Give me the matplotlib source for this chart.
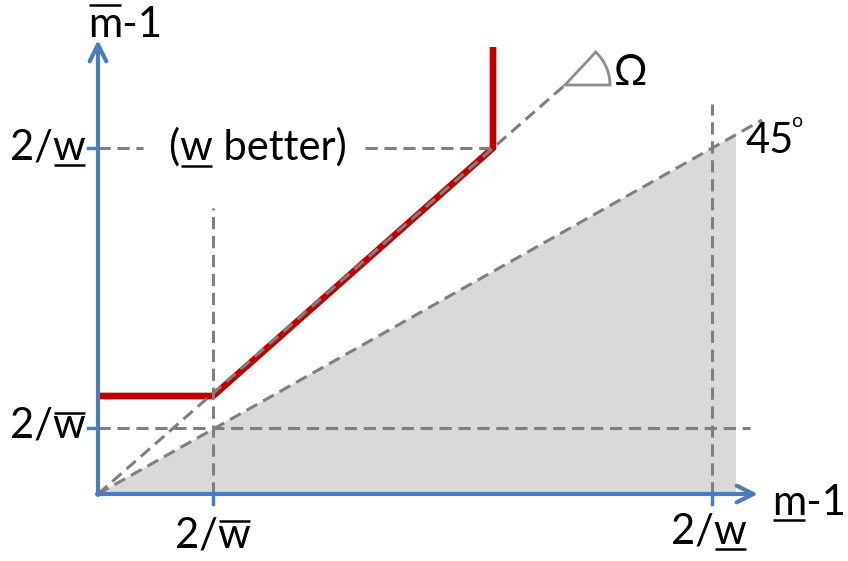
import matplotlib
matplotlib.use('Agg')
import matplotlib.pyplot as plt
from matplotlib.patches import Wedge, Polygon

W, H = 848, 561
OX, OY = 98, 494  # origin of the diagram in image pixels

# ---- diagram values (units: pixels measured from the origin) ----
x_ticks = [115, 614]            # 2/w̄ , 2/w  on the m-1 axis
y_ticks = [66, 346]             # 2/w̄ , 2/w  on the m̄-1 axis
red_x = [0, 115, 395, 395]
red_y = [98, 98, 346, 447]
omega_x = [0, 467]
omega_y = [0, 409]
line45_x = [0, 664]
line45_y = [0, 374]
fill_end = 638
x_axis_end = 660
y_axis_end = 454

BLUE = '#4A7EBB'
GRAY = '#7F7F7F'
RED = '#C00000'
FILL = '#D9D9D9'
FONT = 'Lato'
FS = 30

fig = plt.figure(figsize=(W / 100, H / 100), dpi=100)
ax = fig.add_axes([0, 0, 1, 1])
ax.set_xlim(-OX, W - OX)
ax.set_ylim(-(H - OY), OY)
ax.axis('off')

# shaded region under the 45 degree line
slope45 = line45_y[1] / line45_x[1]
ax.add_patch(Polygon([(0, 0), (fill_end, fill_end * slope45), (fill_end, 0)],
                     closed=True, fc=FILL, ec='none', zorder=1))

dash = dict(color=GRAY, lw=2.2, dashes=(4, 2.2), zorder=4)

# red path
ax.plot(red_x, red_y, color=RED, lw=4.8, solid_capstyle='butt', zorder=3)

# diagonal dashed lines
ax.plot(omega_x, omega_y, **dash)
ax.plot(line45_x, line45_y, **dash)

# guide lines
ax.plot([x_ticks[0], x_ticks[0]], [0, 286], **dash)
ax.plot([x_ticks[1], x_ticks[1]], [0, 390], **dash)
ax.plot([0, 652], [y_ticks[0], y_ticks[0]], **dash)
ax.plot([0, 45], [y_ticks[1], y_ticks[1]], **dash)
ax.plot([267, 392], [y_ticks[1], y_ticks[1]], **dash)

# Omega wedge
ax.add_patch(Wedge((omega_x[1], omega_y[1]), 45, 0, 47, fill=False,
                   ec='#8C8C8C', lw=2, zorder=4))

# axes with arrows
arrow = dict(arrowstyle='->', color=BLUE, lw=3, shrinkA=0, shrinkB=0,
             mutation_scale=30)
ax.annotate('', xy=(x_axis_end, 0), xytext=(-1, 0), arrowprops=arrow, zorder=5)
ax.annotate('', xy=(0, y_axis_end), xytext=(0, -1), arrowprops=arrow, zorder=5)

# tick marks
for xt in x_ticks:
    ax.plot([xt, xt], [0, -10], color=BLUE, lw=2.5, zorder=5)
for yt in y_ticks:
    ax.plot([-10, 0], [yt, yt], color=BLUE, lw=2.5, zorder=5)

# ---- text with over/underlined letters ----
decos = []


def deco_text(xpx, ybase, text, idx=None, kind=None, off=0, ha='left', fs=FS):
    t = ax.text(xpx - OX, OY - ybase, text, ha=ha, va='baseline', fontsize=fs,
                family=FONT, color='black', zorder=6)
    if kind:
        decos.append((t, text, idx, kind, off))
    return t


deco_text(88, 37, 'm-1', 0, 'over', 32)
deco_text(772, 515, 'm-1', 0, 'under', 5)
deco_text(48, 438, '2/w', 2, 'over', 25, ha='center')
deco_text(48, 159, '2/w', 2, 'under', 6, ha='center')
deco_text(213, 547, '2/w', 2, 'over', 26, ha='center')
deco_text(709, 543, '2/w', 2, 'under', 6, ha='center')
deco_text(258, 160, '(w better)', 1, 'under', 6, ha='center')
deco_text(745, 153, '45')
deco_text(791, 127, 'o', fs=14)
deco_text(614, 85, 'Ω')

fig.canvas.draw()
renderer = fig.canvas.get_renderer()
for t, text, idx, kind, off in decos:
    bb = t.get_window_extent(renderer)
    fp = t.get_fontproperties()
    pre = renderer.get_text_width_height_descent(text[:idx], fp, ismath=False)[0] if idx else 0
    inc = renderer.get_text_width_height_descent(text[:idx + 1], fp, ismath=False)[0]
    x0 = bb.x0 + pre - OX
    x1 = bb.x0 + inc - OX
    yb = t.get_position()[1]
    yl = yb + off if kind == 'over' else yb - off
    ax.plot([x0 + 1, x1 - 1], [yl, yl], color='black', lw=1.8,
            solid_capstyle='butt', zorder=6)

fig.savefig('out.png', dpi=100)
